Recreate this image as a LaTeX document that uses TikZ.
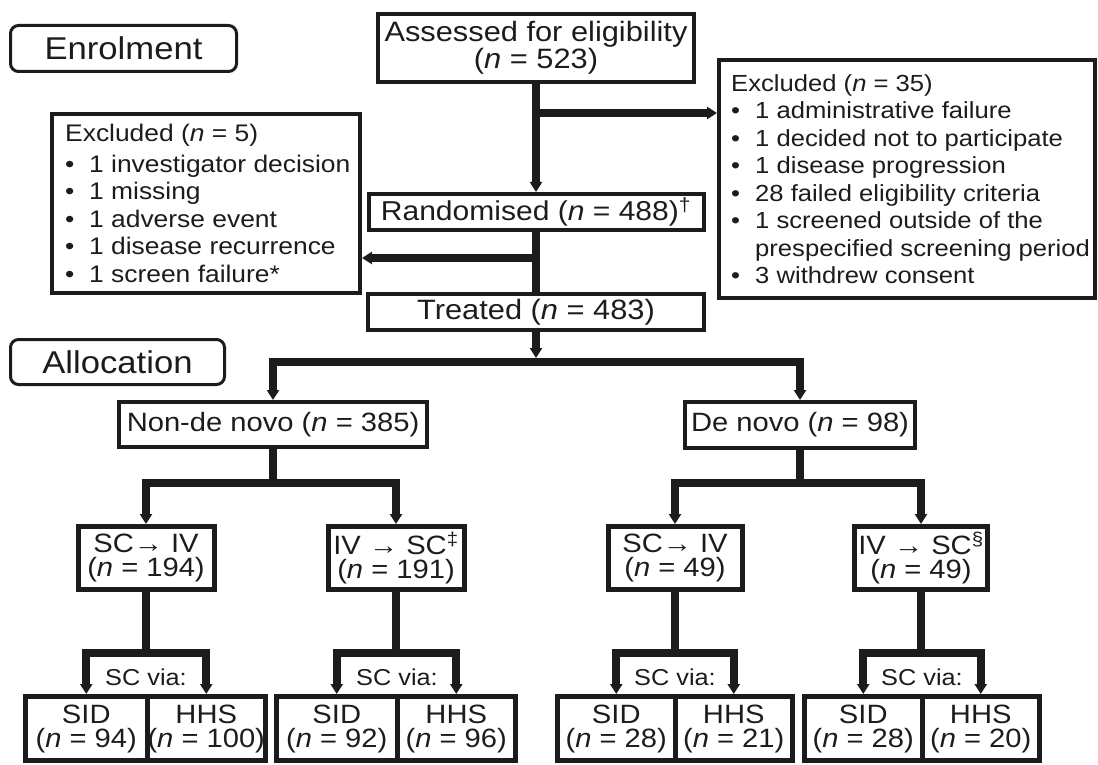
\documentclass[tikz,border=0pt]{standalone}
\usepackage{fontspec}
\setmainfont{Liberation Sans}[FakeStretch=1.1]
\usetikzlibrary{arrows.meta}
\definecolor{ink}{RGB}{28,28,28}
\newcommand\mybul{\makebox[24pt][l]{•}}
\begin{document}
\begin{tikzpicture}[x=1pt,y=-1pt,
  lbl/.style={draw=ink, line width=3pt, rounded corners=8pt, inner sep=0pt, text=ink, font=\fontsize{31.5}{32}\selectfont},
  box/.style={draw=ink, line width=4pt, inner sep=0pt, align=center, text=ink, font=\fontsize{28}{27}\selectfont},
  tbox/.style={draw=ink, line width=5pt, inner sep=0pt, align=center, text=ink, font=\fontsize{26.5}{24}\selectfont},
  listtxt/.style={inner sep=0pt, align=left, text=ink, font=\fontsize{23.3}{27.5}\selectfont},
  via/.style={inner sep=0pt, text=ink, font=\fontsize{23}{24}\selectfont},
  conn/.style={draw=ink, line width=8pt},
  tip/.tip={Triangle[width=12pt,length=10pt]},
  arr/.style={conn, -tip},
  arrb/.style={conn, tip-tip}]
\useasboundingbox (0,0) rectangle (1098,765);

% labels
\node[lbl, minimum width=226pt, minimum height=46pt] (enrol) at (123.5,48.5) {Enrolment};
\node[lbl, minimum width=214pt, minimum height=45pt] (alloc) at (117.5,362) {Allocation};

% main column
\node[box, minimum width=316pt, minimum height=68pt] (assess) at (536,48) {Assessed for eligibility\\(\textit{n} = 523)};
\node[box, minimum width=335pt, minimum height=36pt, font=\fontsize{27.3}{27}\selectfont] (rand) at (536,212) {Randomised (\textit{n} = 488)\textsuperscript{†}};
\node[box, minimum width=336pt, minimum height=36pt] (treated) at (536,312) {Treated (\textit{n} = 483)};

% exclusion boxes
\node[box, minimum width=376pt, minimum height=238pt] (excl35) at (907,179) {};
\node[listtxt, anchor=west] (excl35txt) at ([xshift=14pt]excl35.west) {Excluded (\textit{n} = 35)\\
\mybul 1 administrative failure\\
\mybul 1 decided not to participate\\
\mybul 1 disease progression\\
\mybul 28 failed eligibility criteria\\
\mybul 1 screened outside of the\\
\hspace*{24pt}prespecified screening period\\
\mybul 3 withdrew consent};

\node[box, minimum width=308pt, minimum height=179pt] (excl5) at (206,203.5) {};
\node[listtxt, anchor=west, font=\fontsize{24}{27.5}\selectfont] (excl5txt) at ([xshift=15pt]excl5.west) {Excluded (\textit{n} = 5)\\[3pt]
\mybul 1 investigator decision\\
\mybul 1 missing\\
\mybul 1 adverse event\\
\mybul 1 disease recurrence\\
\mybul 1 screen failure*};

% second level
\node[box, minimum width=308pt, minimum height=45pt, font=\fontsize{26.5}{27}\selectfont] (ndn) at (273,424.5) {Non-de novo (\textit{n} = 385)};
\node[box, minimum width=230pt, minimum height=46pt, font=\fontsize{26.5}{27}\selectfont] (dn) at (800,425) {De novo (\textit{n} = 98)};

% third level
\node[tbox, minimum width=136pt, minimum height=63pt] (a1) at (146,558) {SC→ IV\\(\textit{n} = 194)};
\node[tbox, minimum width=136pt, minimum height=63pt] (a2) at (396,558) {IV → SC\textsuperscript{‡}\\(\textit{n} = 191)};
\node[tbox, minimum width=134pt, minimum height=63pt] (b1) at (675,558) {SC→ IV\\(\textit{n} = 49)};
\node[tbox, minimum width=133pt, minimum height=63pt] (b2) at (921,558) {IV → SC\textsuperscript{§}\\(\textit{n} = 49)};

% fourth level
\node[tbox, minimum width=121.5pt, minimum height=64pt] (sid1) at (86.25,728.5) {SID\\(\textit{n} = 94)};
\node[tbox, minimum width=118.5pt, minimum height=64pt] (hhs1) at (206.25,728.5) {HHS\\(\textit{n} = 100)};
\node[tbox, minimum width=120.5pt, minimum height=64pt] (sid2) at (336.75,728.5) {SID\\(\textit{n} = 92)};
\node[tbox, minimum width=118.5pt, minimum height=64pt] (hhs2) at (456.25,728.5) {HHS\\(\textit{n} = 96)};
\node[tbox, minimum width=117.5pt, minimum height=64pt] (sid3) at (616.25,728.5) {SID\\(\textit{n} = 28)};
\node[tbox, minimum width=117.5pt, minimum height=64pt] (hhs3) at (733.75,728.5) {HHS\\(\textit{n} = 21)};
\node[tbox, minimum width=117.5pt, minimum height=64pt] (sid4) at (863.25,728.5) {SID\\(\textit{n} = 28)};
\node[tbox, minimum width=117.5pt, minimum height=64pt] (hhs4) at (980.75,728.5) {HHS\\(\textit{n} = 20)};

\node[via] (via1) at (146,677) {SC via:};
\node[via] (via2) at (397,677) {SC via:};
\node[via] (via3) at (675,677) {SC via:};
\node[via] (via4) at (922,677) {SC via:};

% junction coordinates
\coordinate (j1) at (536,113);
\coordinate (j2) at (536,258);
\coordinate (j3) at (536,358);
\coordinate (bar) at (536,362);
\coordinate (s1) at (273,483);
\coordinate (s2) at (800,483);
\coordinate (tl) at (0,653);

% connectors
\draw[arr] (assess.south) -- (rand.north);
\draw[arr] (j1) -- (j1 -| excl35.west);
\draw[conn] (rand.south) -- (treated.north);
\draw[arr] (j2) -- (j2 -| excl5.east);
\draw[arr] (treated.south) -- (j3);
\draw[arrb] (ndn.north) -- (ndn.north |- bar) -- (dn.north |- bar) -- (dn.north);

\draw[conn] (ndn.south) -- (s1);
\draw[arrb] (a1.north) -- (a1.north |- s1) -- (a2.north |- s1) -- (a2.north);
\draw[conn] (dn.south) -- (s2);
\draw[arrb] (b1.north) -- (b1.north |- s2) -- (b2.north |- s2) -- (b2.north);

\draw[conn] (a1.south) -- (a1.south |- tl);
\draw[arrb] (sid1.north) -- (sid1.north |- tl) -- (hhs1.north |- tl) -- (hhs1.north);
\draw[conn] (a2.south) -- (a2.south |- tl);
\draw[arrb] (sid2.north) -- (sid2.north |- tl) -- (hhs2.north |- tl) -- (hhs2.north);
\draw[conn] (b1.south) -- (b1.south |- tl);
\draw[arrb] (sid3.north) -- (sid3.north |- tl) -- (hhs3.north |- tl) -- (hhs3.north);
\draw[conn] (b2.south) -- (b2.south |- tl);
\draw[arrb] (sid4.north) -- (sid4.north |- tl) -- (hhs4.north |- tl) -- (hhs4.north);
\end{tikzpicture}
\end{document}
